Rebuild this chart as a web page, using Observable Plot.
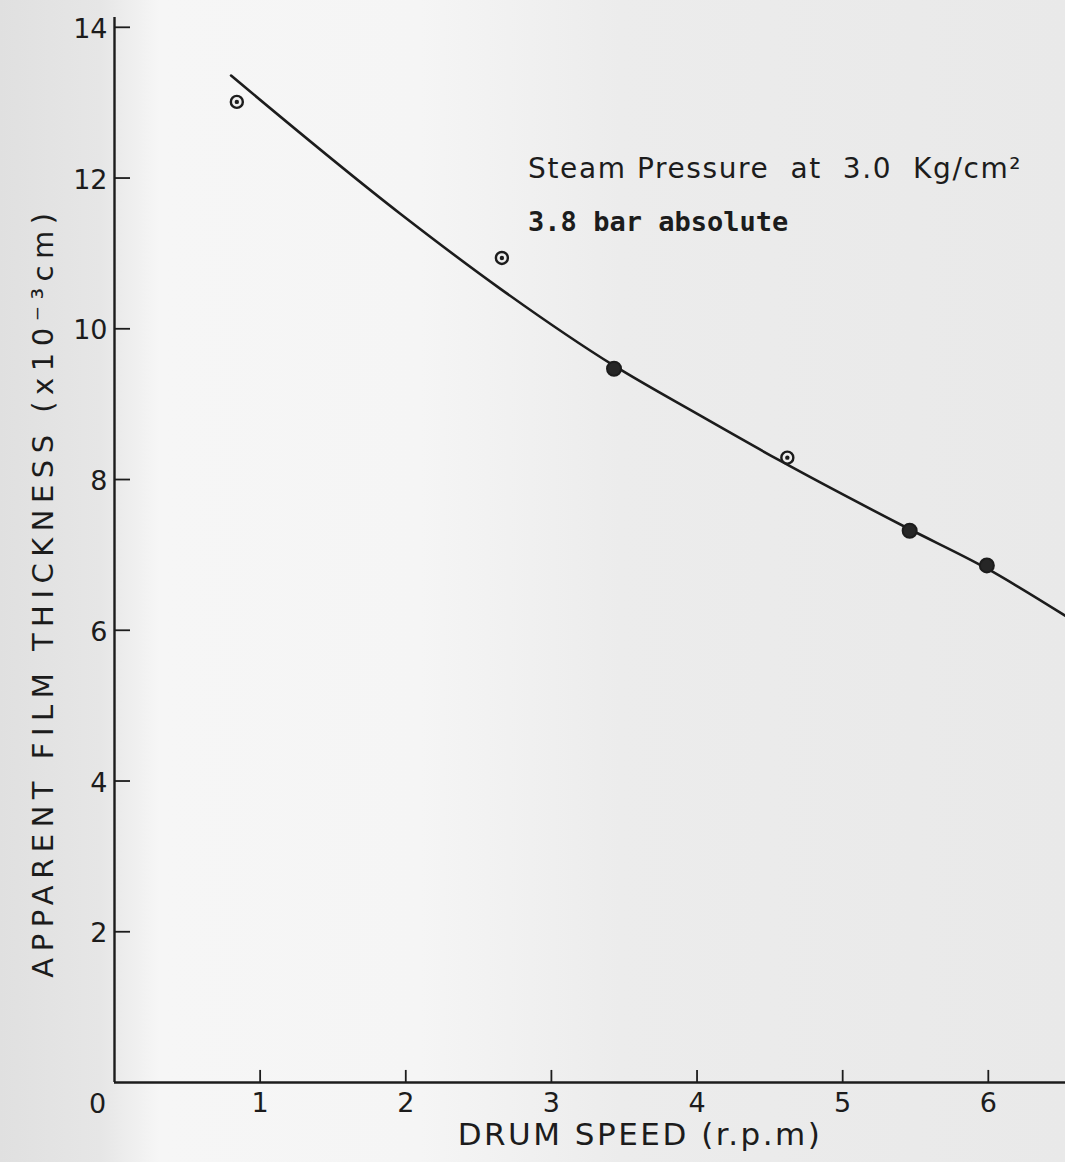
<!DOCTYPE html>
<html>
<head>
<meta charset="utf-8">
<script src="https://cdn.jsdelivr.net/npm/d3@7"></script>
<script src="https://cdn.jsdelivr.net/npm/@observablehq/plot@0.6"></script>
<style>
  html, body { margin: 0; padding: 0; }
  body { width: 1065px; height: 1162px; overflow: hidden;
         background: linear-gradient(90deg, #e0e0e0 0px, #e6e6e6 100px, #f6f6f6 160px, #f5f5f5 420px, #ececec 620px, #e9e9e9 1065px); }
  #chart svg { display: block; background: transparent; }
</style>
</head>
<body>
<div id="chart"></div>
<script>
// Measured points (drum speed in r.p.m, film thickness in 10^-3 cm)
const speed     = [0.84, 2.66, 3.43, 4.62, 5.46, 5.99];
const thickness = [13.01, 10.94, 9.47, 8.29, 7.32, 6.86];
const markerKind = ["open", "open", "filled", "open", "filled", "filled"];

// Hand-drawn fitted curve, read along its path
const fitSpeed     = [0.80, 1.96, 2.65, 3.43, 4.02, 4.57, 5.45, 5.98, 6.53];
const fitThickness = [13.36, 11.53, 10.53, 9.51, 8.85, 8.25, 7.35, 6.83, 6.19];

const xTicks = [1, 2, 3, 4, 5, 6];
const yTicks = [2, 4, 6, 8, 10, 12, 14];

const note1 = "Steam Pressure  at  3.0  Kg/cm²";
const note2 = "3.8 bar absolute";
const xLabel = "DRUM SPEED (r.p.m)";
const yLabel = "APPARENT FILM THICKNESS (x10⁻³cm)";

const points = speed.map((s, i) => ({s, t: thickness[i], kind: markerKind[i]}));
const openPts = points.filter(d => d.kind === "open");
const filledPts = points.filter(d => d.kind === "filled");
const fit = fitSpeed.map((s, i) => ({s, t: fitThickness[i]}));

const ink = "#1c1c1c";
const sans = "'DejaVu Sans', 'Liberation Sans', sans-serif";

const chart = Plot.plot({
  width: 1065,
  height: 1162,
  marginLeft: 114,
  marginRight: 0,
  marginTop: 17,
  marginBottom: 80,
  style: {background: "transparent", color: ink, fontFamily: sans},
  x: {domain: [0, 6.53]},
  y: {domain: [0, 14.13]},
  marks: [
    // axis lines
    Plot.ruleX([0], {stroke: ink, strokeWidth: 2.4}),
    Plot.ruleY([0], {stroke: ink, strokeWidth: 2.4}),
    // inward tick marks
    Plot.ruleX(xTicks, {x: d => d, y1: 0, y2: 0.16, stroke: ink, strokeWidth: 1.8}),
    Plot.ruleY(yTicks, {y: d => d, x1: 0, x2: 0.11, stroke: ink, strokeWidth: 1.8}),
    // tick labels
    Plot.axisX({ticks: xTicks, tickSize: 0, tickPadding: 10, tickFormat: d => String(d),
      fontSize: 27, label: null, fill: ink}),
    Plot.text([0], {x: d => d, y: 0, text: d => "0", dx: -17, dy: 22, fontSize: 27, fill: ink}),
    Plot.axisY({ticks: yTicks, tickSize: 0, tickPadding: 7, tickFormat: d => String(d),
      fontSize: 27, label: null, fill: ink, dy: 2}),
    // axis titles
    Plot.text([xLabel], {frameAnchor: "bottom", text: d => d, dy: 62, dx: 50, fontSize: 31,
      fill: ink}),
    Plot.text([yLabel], {frameAnchor: "left", textAnchor: "middle", text: d => d, rotate: -90,
      dx: -71, dy: 42, fontSize: 29, fill: ink}),
    // fitted curve
    Plot.line(fit, {x: "s", y: "t", curve: "monotone-x", stroke: ink, strokeWidth: 2.6}),
    // data points
    Plot.dot(openPts, {x: "s", y: "t", r: 6, stroke: ink, strokeWidth: 2.4, fill: "#eeeeee"}),
    Plot.dot(openPts, {x: "s", y: "t", r: 2.2, fill: ink}),
    Plot.dot(filledPts, {x: "s", y: "t", r: 7, stroke: ink, strokeWidth: 2, fill: "#262626"}),
    // annotation
    Plot.text([note1], {x: 2.84, y: 12.12, text: d => d, textAnchor: "start", fontSize: 28, fill: ink}),
    Plot.text([note2], {x: 2.84, y: 11.41, text: d => d, textAnchor: "start", fontSize: 27,
      fontWeight: "bold", fontFamily: "'DejaVu Sans Mono', 'Liberation Mono', monospace", fill: ink})
  ]
});
document.getElementById("chart").appendChild(chart);
chart.querySelectorAll("text").forEach(t => {
  if (t.textContent === yLabel) t.style.letterSpacing = "6.5px";
  if (t.textContent === xLabel) t.style.letterSpacing = "2.5px";
  if (t.textContent === note1) { t.style.whiteSpace = "pre"; t.style.letterSpacing = "1.6px"; }
});
</script>
</body>
</html>
